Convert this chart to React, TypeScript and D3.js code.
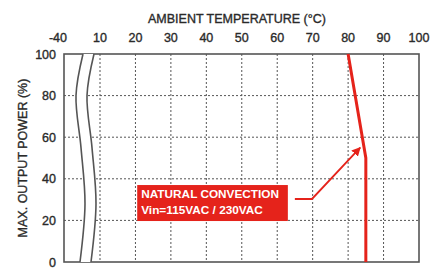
import * as d3 from "d3";
import React from "react";

const tempTicks = [-40, 10, 20, 30, 40, 50, 60, 70, 80, 90, 100];
const gridTemps = [10, 20, 30, 40, 50, 60, 70, 80, 90];
const powerTicks = [0, 20, 40, 60, 80, 100];
const gridPowers = [20, 40, 60, 80];

// derating curve
const curveTemp = [80, 85, 85];
const curvePower = [100, 50, 0];

const noteLines = ["NATURAL CONVECTION", "Vin=115VAC / 230VAC"];

const W = 430;
const H = 271;
const RED = "#e5231b";
const FRAME = "#555";
const INK = "#2a2a2a";
const FONT = "'Liberation Sans', Arial, sans-serif";

export default function App() {
  // broken axis: -40 .. 10 is squeezed into the first segment
  const x = d3.scaleLinear().domain([-40, 10, 100]).range([64, 100, 419]);
  const y = d3.scaleLinear().domain([0, 100]).range([262, 54]);

  const [x0, x1] = [x(-40), x(100)];
  const [yb, yt] = [y(0), y(100)];

  const line = d3
    .line<number>()
    .x((_, i) => x(curveTemp[i]))
    .y((d) => y(d));

  // axis-break band (offsets from the 10 °C line, in px)
  const breakPts: [number, number][] = [
    [-17, 100],
    [-24, 80],
    [-19, 55],
    [-15, 28],
    [-20, 0],
  ];
  const band = 11;
  const wave = d3
    .line<[number, number]>()
    .x((d) => x(10) + d[0])
    .y((d) => y(d[1]))
    .curve(d3.curveCatmullRom);
  const leftEdge = breakPts;
  const rightEdge = breakPts.map(([dx, p]) => [dx + band, p] as [number, number]);
  const bandPath =
    wave(leftEdge)! +
    "L" +
    wave(rightEdge.slice().reverse())!.slice(1) +
    "Z";

  // annotation box in data coords
  const box = { t0: 20.5, t1: 63, p0: 37, p1: 19.7 };
  const elbow = { t: 69.8, p: 30.3 };
  const tip = { t: 83.4, p: 55 };
  const bx = x(box.t0);
  const by = y(box.p0);
  const bw = x(box.t1) - bx;
  const bh = y(box.p1) - by;

  const txt = { fill: INK, stroke: INK, strokeWidth: 0.35 };

  return (
    <svg
      width={W}
      height={H}
      style={{ position: "absolute", left: 0, top: 0, background: "#fff" }}
      fontFamily={FONT}
    >
      <defs>
        <marker
          id="arr"
          viewBox="0 0 10 10"
          refX="9"
          refY="5"
          markerWidth="9"
          markerHeight="9"
          markerUnits="userSpaceOnUse"
          orient="auto"
        >
          <path d="M0,0L10,5L0,10Z" fill={RED} />
        </marker>
      </defs>

      {/* grid */}
      {gridTemps.map((t) => (
        <line
          key={`vx${t}`}
          x1={x(t)}
          x2={x(t)}
          y1={yt}
          y2={yb}
          stroke={FRAME}
          strokeWidth={1}
          strokeDasharray="2,2"
        />
      ))}
      {gridPowers.map((p) => (
        <line
          key={`hy${p}`}
          x1={x0}
          x2={x1}
          y1={y(p)}
          y2={y(p)}
          stroke={FRAME}
          strokeWidth={1}
          strokeDasharray="2,2"
        />
      ))}

      {/* frame */}
      <rect
        x={x0}
        y={yt}
        width={x1 - x0}
        height={yb - yt}
        fill="none"
        stroke={FRAME}
        strokeWidth={1.6}
      />

      {/* axis break */}
      <path d={bandPath} fill="#fff" stroke="none" />
      <path d={wave(leftEdge)!} fill="none" stroke={FRAME} strokeWidth={1.6} />
      <path d={wave(rightEdge)!} fill="none" stroke={FRAME} strokeWidth={1.6} />

      {/* derating line */}
      <path
        d={line(curvePower)!}
        fill="none"
        stroke={RED}
        strokeWidth={3}
      />

      {/* annotation */}
      <rect x={bx} y={by} width={bw} height={bh} fill={RED} />
      {noteLines.map((s, i) => (
        <text
          key={s}
          x={bx + 4}
          y={by + 13 + i * 16}
          fill="#fff"
          fontSize={11.8}
          fontWeight="bold"
        >
          {s}
        </text>
      ))}
      <polyline
        points={`${x(box.t1) + 7},${y(elbow.p)} ${x(elbow.t)},${y(elbow.p)} ${x(tip.t)},${y(tip.p)}`}
        fill="none"
        stroke={RED}
        strokeWidth={1.8}
        markerEnd="url(#arr)"
      />

      {/* x tick labels */}
      {tempTicks.map((t) => (
        <text
          key={`tx${t}`}
          x={t === -40 ? x(t) - 6 : x(t)}
          y={42}
          textAnchor="middle"
          fontSize={12.5}
          {...txt}
        >
          {t}
        </text>
      ))}
      {/* y tick labels */}
      {powerTicks.map((p) => (
        <text
          key={`ty${p}`}
          x={56}
          y={y(p) + 4.5}
          textAnchor="end"
          fontSize={12.5}
          {...txt}
        >
          {p}
        </text>
      ))}

      <text x={237} y={23} textAnchor="middle" fontSize={12.5} {...txt}>
        AMBIENT TEMPERATURE (°C)
      </text>
      <text
        transform={`translate(27,${(yt + yb) / 2}) rotate(-90)`}
        textAnchor="middle"
        fontSize={12.5}
        {...txt}
      >
        MAX. OUTPUT POWER (%)
      </text>
    </svg>
  );
}
